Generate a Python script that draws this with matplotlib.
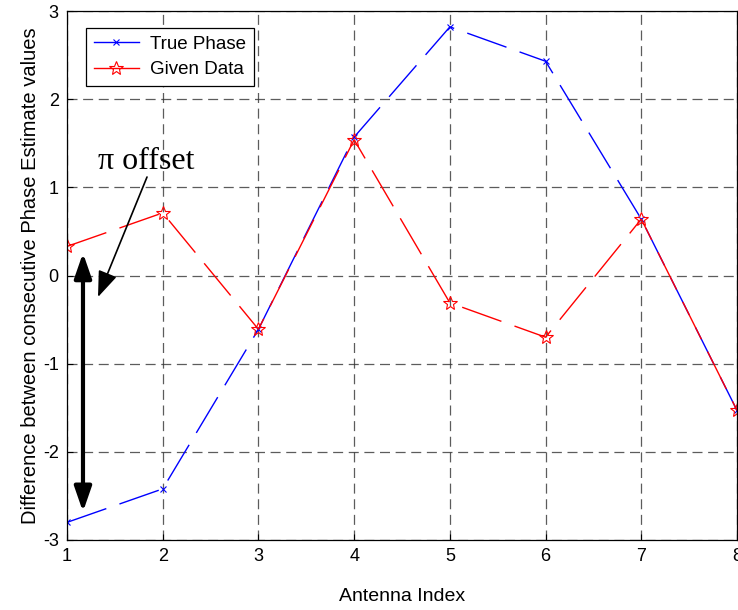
import matplotlib
matplotlib.use("Agg")
import matplotlib.pyplot as plt

antenna = [1, 2, 3, 4, 5, 6, 7, 8]
true_phase = [-2.80, -2.42, -0.61, 1.57, 2.82, 2.43, 0.64, -1.53]
given_data = [0.33, 0.71, -0.61, 1.54, -0.31, -0.70, 0.64, -1.53]
xticks = [1, 2, 3, 4, 5, 6, 7, 8]
yticks = [-3, -2, -1, 0, 1, 2, 3]

plt.rcParams['font.family'] = ['Liberation Sans', 'DejaVu Sans']
plt.rcParams['axes.unicode_minus'] = False

fig = plt.figure(figsize=(7.38, 6.10), dpi=100)
ax = fig.add_axes([67/738, 1-540/610, 670/738, 529/610])

ax.plot(antenna, true_phase, color='blue', lw=1.0, dashes=(30, 10),
        marker='x', ms=5, mew=0.8, label='True Phase')
ax.plot(antenna, given_data, color='red', lw=1.0, dashes=(30, 10),
        marker='*', ms=10, mew=0.8, mfc='none', mec='red', label='Given Data')

ax.set_xlim(1, 8)
ax.set_ylim(-3, 3)
ax.set_xticks(xticks)
ax.set_yticks(yticks)
ax.tick_params(direction='in', labelsize=13, length=4, pad=6)
ax.grid(True, color='#333333', ls=(0, (8, 4.5)), lw=0.9, alpha=0.8)
for s in ax.spines.values():
    s.set_linewidth(0.9)

ax.set_xlabel('Antenna Index', fontsize=14, labelpad=16)
ax.set_ylabel('Difference between consecutive Phase Estimate values', fontsize=14.5, labelpad=2)

leg = ax.legend(loc='upper left', bbox_to_anchor=(0.028, 0.968), fontsize=13.5,
                frameon=True, fancybox=False, edgecolor='black', framealpha=1,
                handlelength=2.4, handletextpad=0.6, borderpad=0.42, labelspacing=0.45,
                borderaxespad=0)
leg.get_frame().set_linewidth(0.9)
for h in leg.get_lines():
    h.set_linestyle('-')

ax.annotate('', xy=(1.167, -2.68), xytext=(1.167, 0.255),
            arrowprops=dict(arrowstyle='<|-|>,head_length=0.75,head_width=0.26',
                            color='black', lw=3, mutation_scale=20,
                            shrinkA=0, shrinkB=0))
ax.annotate('', xy=(1.324, -0.244), xytext=(1.836, 1.117),
            arrowprops=dict(arrowstyle='-|>,head_length=0.8,head_width=0.3',
                            color='black', lw=1.2, mutation_scale=20,
                            shrinkA=0, shrinkB=0))
ax.text(1.32, 1.21, 'π offset', fontsize=23, family=['Liberation Serif', 'DejaVu Serif'],
        ha='left', va='baseline')

fig.savefig('out.png', dpi=100)
